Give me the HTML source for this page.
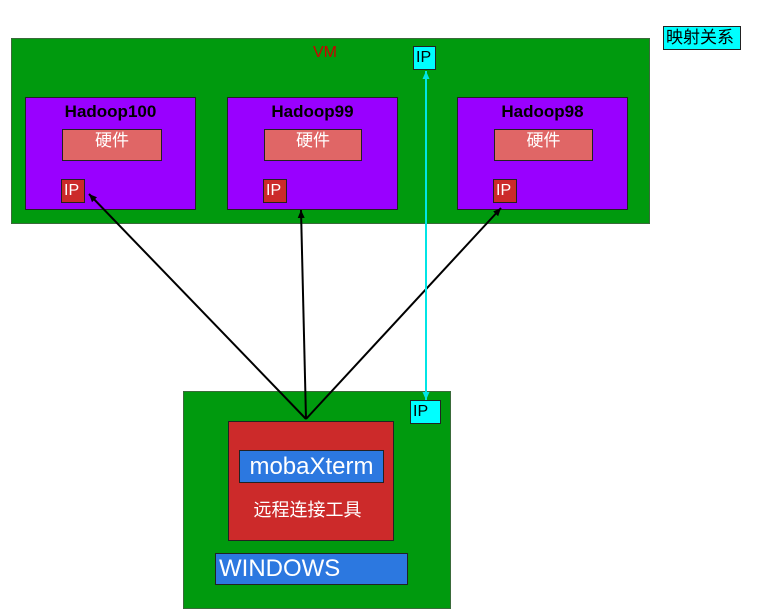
<!DOCTYPE html>
<html><head><meta charset="utf-8"><style>
body{margin:0;width:759px;height:616px;background:#fff;position:relative;overflow:hidden;font-family:"Liberation Sans","Noto Sans CJK SC",sans-serif}
.b{position:absolute;box-sizing:border-box;border:1px solid #222}
.g{background:#009a0e;border-color:#3a6a3a}
.p{background:#9900ff}
.hw{background:#e06666;color:#fff;text-align:center;font-size:17px;line-height:22px}
.ip{background:#cc2a2a;color:#fff;font-size:16px;line-height:22px;padding-left:2px}
.cy{background:#00ffff;color:#000;font-size:16px;line-height:22px;padding-left:2px}
.t{position:absolute;font-weight:bold;font-size:17px;text-align:center}
.bl{background:#2c78e0;color:#fff}
</style></head><body>
<div class="b g" style="left:11px;top:38px;width:639px;height:186px"></div>
<div style="position:absolute;left:300px;top:44px;width:50px;text-align:center;color:#cc0000;font-size:16px">VM</div>
<div class="b cy" style="left:413px;top:46px;width:23px;height:24px">IP</div>
<div class="b cy" style="left:663px;top:26px;width:78px;height:24px;font-size:17px">映射关系</div>

<div class="b p" style="left:25px;top:97px;width:171px;height:113px"></div>
<div class="t" style="left:25px;top:102px;width:171px">Hadoop100</div>
<div class="b hw" style="left:62px;top:129px;width:100px;height:32px">硬件</div>
<div class="b ip" style="left:61px;top:179px;width:24px;height:24px">IP</div>

<div class="b p" style="left:227px;top:97px;width:171px;height:113px"></div>
<div class="t" style="left:227px;top:102px;width:171px">Hadoop99</div>
<div class="b hw" style="left:264px;top:129px;width:98px;height:32px">硬件</div>
<div class="b ip" style="left:263px;top:179px;width:24px;height:24px">IP</div>

<div class="b p" style="left:457px;top:97px;width:171px;height:113px"></div>
<div class="t" style="left:457px;top:102px;width:171px">Hadoop98</div>
<div class="b hw" style="left:494px;top:129px;width:99px;height:32px">硬件</div>
<div class="b ip" style="left:493px;top:179px;width:24px;height:24px">IP</div>

<div class="b g" style="left:183px;top:391px;width:268px;height:218px"></div>
<div class="b cy" style="left:410px;top:400px;width:31px;height:24px">IP</div>
<div class="b" style="left:228px;top:421px;width:166px;height:120px;background:#cc2a2a"></div>
<div class="b bl" style="left:239px;top:450px;width:145px;height:33px;font-size:24px;line-height:31px;text-align:center">mobaXterm</div>
<div style="position:absolute;left:250px;top:496px;width:115px;text-align:center;color:#fff;font-size:18px">远程连接工具</div>
<div class="b bl" style="left:215px;top:553px;width:193px;height:32px;font-size:24px;line-height:30px;padding-left:3px">WINDOWS</div>

<svg width="759" height="616" style="position:absolute;left:0;top:0">
<defs><marker id="a" markerUnits="userSpaceOnUse" markerWidth="8" markerHeight="8" refX="8" refY="4" orient="auto"><path d="M0,0.5 L8,4 L0,7.5z" fill="#000"/></marker>
<marker id="c" markerUnits="userSpaceOnUse" markerWidth="8" markerHeight="8" refX="8" refY="4" orient="auto-start-reverse"><path d="M0,0.5 L8,4 L0,7.5z" fill="#00e5e5"/></marker></defs>
<g stroke="#000" stroke-width="2" fill="none">
<line x1="306" y1="419" x2="89" y2="194" marker-end="url(#a)"/>
<line x1="306" y1="419" x2="301" y2="210" marker-end="url(#a)"/>
<line x1="306" y1="419" x2="501" y2="208" marker-end="url(#a)"/>
</g>
<line x1="426" y1="71" x2="426" y2="400" stroke="#00e5e5" stroke-width="2" marker-end="url(#c)" marker-start="url(#c)"/>
</svg>
</body></html>
